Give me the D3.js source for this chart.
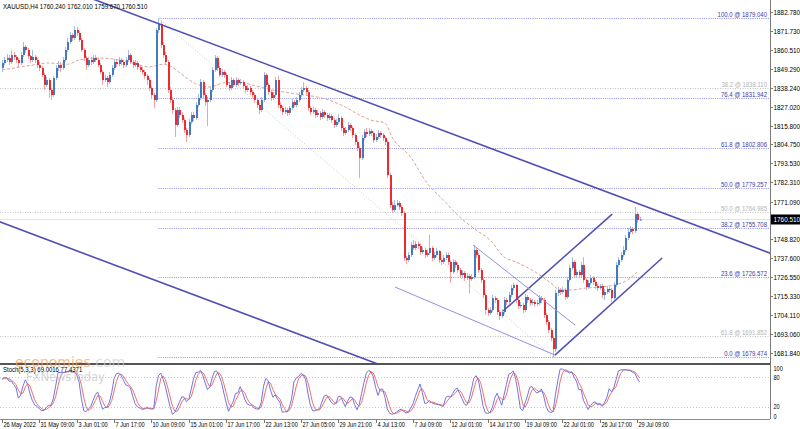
<!DOCTYPE html>
<html>
<head>
<meta charset="utf-8">
<script src="https://cdn.jsdelivr.net/npm/d3@7/dist/d3.min.js"></script>
<style>
    html, body { margin: 0; padding: 0; background: #fff; }
    svg { display: block; font-family: "Liberation Sans", Arial, sans-serif; }
</style>
</head>
<body>
<svg id="chart" width="800" height="429"></svg>
<script>
// XAUUSD H4, 26 May - 29 Jul 2022
const symbol = "XAUUSD,H4";
const firstOpen = 1849.8;
const closes = [
    1852.7,1854.5,1855.7,1853.3,1857.4,1856.3,1854.5,1852.7,1857.4,1862.2,
    1860.4,1856.8,1854.5,1856.3,1854.5,1851.5,1849.8,1845.7,1839.8,1842.7,
    1836.8,1833.9,1843.9,1849.8,1851.5,1849.8,1854.5,1860.4,1865.1,1869.2,
    1867.5,1872.2,1870.4,1866.3,1860.4,1855.7,1851.5,1854.5,1853.3,1855.7,
    1854.5,1851.5,1847.4,1842.7,1843.9,1841.5,1845.7,1849.8,1853.3,1852.1,
    1854.5,1853.3,1851.5,1854.5,1857.4,1853.3,1851.5,1852.7,1850.3,1848.6,
    1847.4,1845.1,1842.7,1838.0,1833.9,1830.9,1872.2,1875.7,1863.3,1857.4,
    1853.3,1836.8,1830.9,1825.0,1816.2,1825.0,1822.1,1819.1,1813.2,1810.3,
    1818.0,1822.1,1820.3,1828.0,1832.1,1841.5,1833.9,1829.7,1830.9,1836.8,
    1848.6,1855.7,1849.8,1845.7,1847.4,1845.7,1839.8,1838.0,1842.7,1839.8,
    1842.7,1840.9,1841.5,1839.2,1836.8,1838.0,1835.6,1833.9,1830.9,1828.0,
    1825.0,1830.9,1845.7,1839.8,1835.6,1832.1,1833.9,1842.7,1828.0,1826.2,
    1823.8,1825.0,1823.3,1826.2,1829.7,1828.0,1830.9,1833.9,1836.8,1838.0,
    1835.6,1826.2,1823.8,1825.0,1822.1,1823.3,1820.9,1823.8,1822.1,1820.3,
    1821.5,1819.1,1816.2,1818.0,1820.3,1814.4,1811.5,1813.2,1816.2,1814.4,
    1810.3,1806.2,1802.6,1796.7,1808.5,1812.1,1810.9,1812.6,1811.5,1807.3,
    1809.1,1811.5,1810.3,1808.5,1806.2,1786.7,1769.0,1766.1,1769.0,1770.2,
    1767.9,1764.3,1737.8,1736.6,1739.6,1745.5,1743.7,1746.1,1744.9,1741.3,
    1742.5,1739.6,1740.7,1743.7,1737.8,1739.6,1741.9,1736.6,1735.5,1737.8,
    1739.6,1735.5,1729.6,1735.5,1733.7,1730.7,1727.8,1729.0,1726.0,1727.2,
    1725.4,1726.6,1742.5,1739.6,1730.7,1724.9,1716.0,1707.2,1705.4,1707.2,
    1714.2,1713.1,1706.0,1703.6,1706.0,1713.1,1711.9,1716.0,1720.1,1721.9,
    1713.1,1709.5,1710.1,1707.2,1714.8,1713.1,1711.3,1711.9,1710.7,1711.3,
    1714.2,1713.1,1704.2,1700.1,1695.4,1690.6,1684.2,1717.2,1719.0,1717.8,
    1719.0,1714.8,1724.9,1731.9,1735.5,1727.8,1729.6,1727.8,1733.7,1724.9,
    1720.7,1723.1,1726.0,1723.7,1721.3,1720.1,1721.3,1716.0,1717.8,1719.5,
    1719.0,1714.2,1721.9,1733.7,1736.6,1739.6,1742.5,1749.6,1753.1,1754.9,
    1753.7,1763.7,1760.24,1760.51
];
const highs = [
    1854.5,1856.3,1858.0,1857.4,1860.4,1859.2,1857.4,1855.7,1859.2,1865.1,
    1863.3,1861.6,1857.4,1860.4,1857.4,1855.7,1853.3,1851.0,1846.8,1844.5,
    1843.9,1838.0,1845.1,1851.5,1853.9,1853.3,1856.3,1862.2,1867.5,1871.0,
    1870.4,1874.5,1874.0,1871.6,1867.5,1861.6,1856.8,1856.3,1856.3,1857.4,
    1857.4,1855.7,1852.7,1848.6,1845.7,1845.1,1847.4,1851.5,1855.1,1854.5,
    1856.3,1855.7,1854.5,1856.3,1860.4,1858.6,1854.5,1854.5,1853.9,1851.5,
    1850.3,1848.6,1846.2,1843.9,1839.2,1835.1,1873.4,1879.04,1877.5,1865.1,
    1859.2,1854.5,1838.6,1832.7,1826.2,1826.8,1826.8,1823.8,1820.3,1814.4,
    1819.7,1823.8,1823.8,1829.7,1834.5,1843.3,1842.7,1835.1,1832.7,1838.6,
    1850.3,1857.4,1856.8,1851.0,1849.2,1848.6,1846.8,1841.0,1844.5,1843.9,
    1844.5,1843.9,1843.3,1842.7,1840.3,1839.8,1839.2,1836.8,1835.1,1832.1,
    1829.1,1832.7,1847.4,1846.8,1841.0,1836.8,1835.6,1844.5,1845.1,1829.7,
    1827.4,1826.8,1826.2,1827.4,1831.5,1830.9,1832.7,1835.6,1838.6,1841.5,
    1839.2,1836.8,1827.4,1826.8,1826.2,1825.0,1824.4,1825.6,1825.0,1823.3,
    1823.3,1822.6,1820.3,1819.7,1822.6,1821.5,1815.6,1815.0,1818.0,1817.4,
    1815.6,1811.5,1807.3,1803.8,1810.3,1813.8,1814.4,1814.4,1813.8,1812.6,
    1810.9,1813.2,1812.6,1811.5,1809.7,1807.3,1788.0,1770.8,1772.0,1772.0,
    1771.4,1769.0,1765.5,1739.0,1741.3,1747.2,1748.4,1747.8,1747.2,1746.1,
    1744.3,1743.7,1742.5,1751.4,1744.9,1741.3,1743.7,1742.5,1737.8,1739.6,
    1741.3,1740.7,1736.6,1737.2,1736.6,1734.9,1731.9,1730.7,1730.2,1728.9,
    1728.4,1728.4,1745.5,1743.7,1740.7,1731.9,1726.0,1717.2,1708.5,1708.9,
    1716.0,1715.4,1714.2,1707.2,1707.8,1714.8,1714.2,1717.8,1721.9,1723.1,
    1722.5,1714.2,1711.9,1711.3,1716.6,1716.0,1714.2,1713.7,1713.1,1713.1,
    1716.0,1715.4,1714.2,1705.4,1701.3,1696.6,1691.8,1719.0,1720.7,1720.1,
    1720.7,1720.1,1726.6,1733.7,1738.4,1736.6,1731.3,1730.7,1735.5,1738.4,
    1726.0,1724.9,1727.8,1727.2,1724.9,1722.5,1722.5,1722.5,1719.5,1721.3,
    1720.7,1720.1,1723.7,1735.5,1738.4,1741.3,1744.9,1751.4,1755.5,1756.7,
    1756.1,1767.9,1764.9,1762.01
];
const lows = [
    1847.4,1851.5,1853.3,1851.5,1852.1,1854.5,1852.7,1850.3,1851.5,1856.3,
    1858.6,1855.1,1852.7,1853.3,1852.7,1849.8,1848.0,1844.5,1836.8,1838.6,
    1832.1,1830.9,1832.7,1842.7,1848.0,1847.4,1848.6,1853.3,1859.2,1863.9,
    1865.7,1866.3,1868.6,1865.1,1859.2,1853.9,1848.6,1850.3,1851.5,1852.1,
    1853.3,1850.3,1846.2,1839.8,1841.5,1838.6,1840.3,1844.5,1848.6,1850.3,
    1850.9,1851.5,1849.8,1850.3,1853.3,1852.1,1849.8,1850.3,1848.6,1847.4,
    1845.7,1843.3,1839.8,1836.2,1831.5,1826.2,1829.7,1870.4,1861.6,1855.7,
    1851.5,1835.1,1829.1,1822.6,1809.1,1815.0,1820.3,1817.4,1811.5,1806.2,
    1809.1,1816.8,1818.6,1819.1,1826.8,1830.9,1832.1,1827.4,1815.6,1829.7,
    1835.6,1847.4,1848.0,1844.5,1844.5,1843.9,1838.6,1836.2,1836.8,1838.6,
    1838.6,1839.2,1839.8,1837.4,1835.1,1835.6,1833.9,1832.1,1829.1,1826.2,
    1822.6,1823.8,1829.7,1838.6,1833.9,1830.3,1830.9,1832.7,1826.2,1824.4,
    1822.1,1822.6,1821.5,1822.1,1825.0,1826.8,1826.8,1829.7,1832.7,1835.6,
    1833.9,1824.4,1822.1,1822.6,1820.3,1820.9,1819.1,1819.7,1820.3,1818.6,
    1819.1,1817.4,1814.4,1815.0,1816.8,1812.6,1809.7,1810.3,1812.1,1812.6,
    1808.5,1804.4,1800.8,1784.8,1795.6,1807.3,1809.1,1809.7,1809.7,1805.6,
    1806.2,1808.0,1808.5,1806.8,1804.4,1784.8,1767.3,1764.3,1764.9,1767.9,
    1766.1,1762.5,1736.0,1734.3,1735.5,1738.4,1742.5,1742.5,1743.1,1739.6,
    1740.1,1737.8,1738.4,1739.6,1736.0,1736.6,1738.4,1734.9,1733.7,1734.3,
    1736.6,1733.7,1723.1,1728.4,1731.9,1729.0,1726.0,1726.6,1724.3,1724.9,
    1717.0,1724.3,1725.4,1737.8,1729.0,1723.1,1714.2,1704.2,1703.6,1704.2,
    1706.0,1711.3,1704.2,1701.3,1702.4,1704.8,1710.1,1710.7,1714.8,1718.4,
    1711.3,1707.8,1708.4,1705.4,1706.0,1711.3,1709.5,1710.1,1709.0,1709.5,
    1710.1,1711.3,1702.4,1698.3,1693.6,1688.8,1679.474,1682.4,1715.4,1716.0,
    1716.6,1713.1,1713.7,1723.7,1730.7,1726.0,1726.6,1726.0,1726.6,1723.1,
    1719.0,1719.5,1721.9,1721.9,1719.5,1718.4,1718.9,1714.2,1713.1,1716.6,
    1717.2,1711.9,1713.1,1720.7,1732.5,1735.5,1738.4,1741.3,1748.4,1751.9,
    1751.9,1752.5,1758.5,1759.67
];

// dashed moving average, read at a few bars
const maBars = [0, 8, 13, 20, 28, 33, 42, 50, 56, 63, 69, 72, 77, 83, 89, 95, 102, 107, 116, 123, 129, 135, 140, 147, 153, 158, 164, 167, 175, 182, 189, 196, 203, 209, 215, 220, 227, 235, 239, 244, 250, 256, 262, 268, 272];
const maValues = [1848.6, 1850.4, 1851.5, 1852.7, 1852.0, 1854.5, 1855.7, 1854.5, 1852.7, 1850.4, 1852.0, 1851.0, 1846.0, 1840.5, 1838.6, 1841.0, 1841.5, 1839.8, 1836.8, 1835.1, 1833.9, 1832.7, 1830.9, 1826.8, 1822.1, 1819.1, 1817.4, 1809.1, 1797.3, 1782.0, 1772.0, 1762.0, 1754.3, 1748.4, 1738.4, 1735.5, 1730.7, 1723.1, 1719.0, 1719.0, 1720.1, 1720.7, 1721.9, 1724.9, 1729.6];

const timeLabels = ["26 May 2022", "31 May 09:00", "3 Jun 01:00", "7 Jun 17:00", "10 Jun 09:00", "15 Jun 01:00", "17 Jun 17:00", "22 Jun 13:00", "27 Jun 05:00", "29 Jun 21:00", "4 Jul 13:00", "7 Jul 09:00", "12 Jul 01:00", "14 Jul 17:00", "19 Jul 09:00", "22 Jul 01:00", "26 Jul 17:00", "29 Jul 09:00"];
const barsPerLabel = 16;
const priceTicks = [1882.780, 1871.730, 1860.510, 1849.290, 1838.240, 1827.020, 1815.800, 1804.750, 1793.530, 1782.310, 1771.090, 1748.820, 1737.600, 1726.550, 1715.330, 1704.110, 1693.060, 1681.840];
const stochTicks = [100, 80, 20, 0];
const stochLevels = [80, 20];

// fibonacci from the 13 Jun high to the 21 Jul low
const fibHighBar = 67, fibHigh = 1879.040;
const fibLowBar = 236, fibLow = 1679.474;
const fibLevels = [100.0, 76.4, 61.8, 50.0, 38.2, 23.6, 0.0];
// older, wider fibonacci (only three levels visible)
const grayFibLevels = [38.2, 50.0, 61.8];
const grayFibPrices = [1838.110, 1764.985, 1691.852];

// trend lines as [bar, price] pairs
const channelUpper = [[68, 1875.4], [273, 1769.5]];
const channelLower = [[0, 1758.6], [150, 1681.0]];
const risingLower = [[236.8, 1680.6], [282.7, 1737.8]];
const risingUpper = [[214.6, 1706.6], [261.3, 1763.7]];
const wedgeUpper = [[201.7, 1745.5], [245.4, 1698.3]];
const wedgeLower = [[168.3, 1720.7], [236.8, 1680.6]];

//------------------------------------------------------------------
const W = 800, H = 429;
const plotRight = 770;
const mainBottom = 364;
const stochBottom = 419;

const n = closes.length;
const bars = closes.map((c, i) => ({
    i: i,
    o: i === 0 ? firstOpen : closes[i - 1],
    h: highs[i],
    l: lows[i],
    c: c
}));

const x = d3.scaleLinear().domain([0, n - 1]).range([2, 639.5]);
const y = d3.scaleLinear().domain([1676.5, 1889.85]).range([362.05, 0]);
const ys = d3.scaleLinear().domain([0, 100]).range([416.5, 366.5]);

const svg = d3.select("#chart");

// text with the horizontally squeezed look of the screenshot
function txt(g, px, py, str, size, color, anchor, sx) {
    return g.append("text")
        .attr("transform", `translate(${px},${py}) scale(${sx || 0.8},1)`)
        .attr("font-size", size)
        .attr("fill", color)
        .attr("text-anchor", anchor || "start")
        .text(str);
}

svg.append("defs").append("clipPath").attr("id", "mainClip")
    .append("rect").attr("x", 0).attr("y", 0).attr("width", plotRight).attr("height", mainBottom);

const main = svg.append("g").attr("clip-path", "url(#mainClip)");

// gray fib levels, full width
grayFibLevels.forEach((lv, k) => {
    const py = Math.round(y(grayFibPrices[k])) + 0.5;
    main.append("line")
        .attr("x1", 0).attr("x2", plotRight).attr("y1", py).attr("y2", py)
        .attr("stroke", "#c4c4c4").attr("stroke-dasharray", "1,1.5");
    txt(svg, plotRight - 3, py - 2, `${lv.toFixed(1)} @ ${grayFibPrices[k].toFixed(3)}`, 7.5, "#b4b4b4", "end");
});

// bid line
main.append("line")
    .attr("x1", 0).attr("x2", plotRight)
    .attr("y1", Math.round(y(closes[n - 1])) + 0.5).attr("y2", Math.round(y(closes[n - 1])) + 0.5)
    .attr("stroke", "#d6e8ee");

// blue fib levels
const fibX0 = x(fibHighBar);
fibLevels.forEach(lv => {
    const price = fibLow + (fibHigh - fibLow) * lv / 100;
    const py = Math.round(y(price)) + 0.5;
    main.append("line")
        .attr("x1", fibX0).attr("x2", plotRight).attr("y1", py).attr("y2", py)
        .attr("stroke", "#8d8de6").attr("stroke-dasharray", "1,1.2");
    txt(svg, plotRight - 3, py - 2, `${lv.toFixed(1)} @ ${price.toFixed(3)}`, 7.5, "#3b3bab", "end");
});
main.append("line")
    .attr("x1", x(fibHighBar)).attr("y1", y(fibHigh))
    .attr("x2", x(fibLowBar)).attr("y2", y(fibLow))
    .attr("stroke", "#c8c8c8").attr("stroke-dasharray", "1,2");

// moving average
main.append("path")
    .datum(maBars.map((b, k) => [b, maValues[k]]))
    .attr("fill", "none")
    .attr("stroke", "#d9a295")
    .attr("stroke-width", 1)
    .attr("stroke-dasharray", "3,2")
    .attr("d", d3.line().x(d => x(d[0])).y(d => y(d[1])).curve(d3.curveMonotoneX));

// candles
const candle = main.append("g");
candle.selectAll(".wick").data(bars).enter().append("line")
    .attr("x1", d => Math.round(x(d.i)) + 0.5).attr("x2", d => Math.round(x(d.i)) + 0.5)
    .attr("y1", d => y(d.h)).attr("y2", d => y(d.l))
    .attr("stroke", d => d.c >= d.o ? "#a3bfe3" : "#f4a2a5")
    .attr("stroke-width", 1);
candle.selectAll(".body").data(bars).enter().append("rect")
    .attr("x", d => Math.round(x(d.i)))
    .attr("width", 2)
    .attr("y", d => y(Math.max(d.o, d.c)))
    .attr("height", d => Math.max(1, Math.abs(y(d.o) - y(d.c))))
    .attr("fill", d => d.c >= d.o ? "#4479bf" : "#ec2a2f");

// trend lines
function extLine(p, color, width) {
    const [a, b] = p;
    const x1 = x(a[0]), y1 = y(a[1]), x2 = x(b[0]), y2 = y(b[1]);
    const k = (y2 - y1) / (x2 - x1);
    main.append("line")
        .attr("x1", -10).attr("y1", y1 + k * (-10 - x1))
        .attr("x2", W).attr("y2", y1 + k * (W - x1))
        .attr("stroke", color).attr("stroke-width", width);
}
function segLine(p, color, width) {
    main.append("line")
        .attr("x1", x(p[0][0])).attr("y1", y(p[0][1]))
        .attr("x2", x(p[1][0])).attr("y2", y(p[1][1]))
        .attr("stroke", color).attr("stroke-width", width);
}
extLine(channelUpper, "#4e4eb4", 1.6);
extLine(channelLower, "#4e4eb4", 1.6);
segLine(risingLower, "#4e4eb4", 1.5);
segLine(risingUpper, "#4e4eb4", 1.5);
segLine(wedgeUpper, "#9292e2", 1);
segLine(wedgeLower, "#9292e2", 1);

// header
const last = bars[n - 1];
txt(svg, 3, 9, `${symbol}  ${last.o.toFixed(3)} ${last.h.toFixed(3)} ${last.l.toFixed(3)} ${last.c.toFixed(3)}`, 7.5, "#000", "start", 0.82);

// right price axis
svg.append("line").attr("x1", plotRight + 0.5).attr("x2", plotRight + 0.5).attr("y1", 0).attr("y2", stochBottom)
    .attr("stroke", "#7a7a7a");
priceTicks.forEach(p => {
    const py = Math.round(y(p)) + 0.5;
    svg.append("line").attr("x1", plotRight).attr("x2", plotRight + 3).attr("y1", py).attr("y2", py).attr("stroke", "#7a7a7a");
    txt(svg, plotRight + 3.5, py + 2.8, p.toFixed(3), 8);
});
const cy = y(last.c);
svg.append("rect").attr("x", plotRight + 1).attr("y", cy - 5).attr("width", W - plotRight - 1).attr("height", 10).attr("fill", "#000");
txt(svg, plotRight + 3.5, cy + 2.8, last.c.toFixed(3), 8, "#fff");

// stochastic (5,3,3) from the candles
const kPer = 5, slowing = 3, dPer = 3;
const hh = [], ll = [];
bars.forEach((d, i) => {
    const w = bars.slice(Math.max(0, i - kPer + 1), i + 1);
    hh.push(d3.max(w, b => b.h));
    ll.push(d3.min(w, b => b.l));
});
const kLine = bars.map((d, i) => {
    let num = 0, den = 0;
    for (let j = Math.max(0, i - slowing + 1); j <= i; j++) {
        num += bars[j].c - ll[j];
        den += hh[j] - ll[j];
    }
    return den === 0 ? 50 : num / den * 100;
});
const dLine = kLine.map((v, i) => d3.mean(kLine.slice(Math.max(0, i - dPer + 1), i + 1)));

// separator between panes
svg.append("line").attr("x1", 0).attr("x2", plotRight).attr("y1", mainBottom).attr("y2", mainBottom)
    .attr("stroke", "#555").attr("stroke-width", 2);
svg.append("line").attr("x1", 0).attr("x2", plotRight).attr("y1", stochBottom + 0.5).attr("y2", stochBottom + 0.5)
    .attr("stroke", "#8a8a8a");

const stoch = svg.append("g");
stochLevels.forEach(lv => {
    stoch.append("line").attr("x1", 0).attr("x2", plotRight)
        .attr("y1", Math.round(ys(lv)) + 0.5).attr("y2", Math.round(ys(lv)) + 0.5)
        .attr("stroke", "#c8c8c8").attr("stroke-dasharray", "1,2");
});
stochTicks.forEach(v => {
    // keep the top label inside the pane, nudge 80 off it
    let cyT = Math.max(ys(v), mainBottom + 4.5);
    if (v === 80) cyT += 1.5;
    txt(svg, plotRight + 3.5, cyT + 2.4, String(v), 7, "#000");
});

// watermark
const wm = svg.append("g").attr("opacity", 0.7);
const wmText = wm.append("text").attr("x", 15).attr("y", 367).attr("font-size", 14).attr("font-family", "Verdana, 'DejaVu Sans', sans-serif");
wmText.append("tspan").attr("fill", "#f7a15a").text("economies");
wmText.append("tspan").attr("fill", "#cfcfcf").text(".com");
wm.append("text").attr("x", 26).attr("y", 381).attr("font-size", 11.5).attr("fill", "#c4c4c4")
    .attr("font-family", "Verdana, 'DejaVu Sans', sans-serif").text("FXNewsToday");

stoch.append("path").datum(dLine)
    .attr("fill", "none").attr("stroke", "#f07070").attr("stroke-width", 1)
    .attr("d", d3.line().x((d, i) => x(i)).y(d => ys(d)));
stoch.append("path").datum(kLine)
    .attr("fill", "none").attr("stroke", "#7474e0").attr("stroke-width", 1)
    .attr("d", d3.line().x((d, i) => x(i)).y(d => ys(d)));

txt(svg, 3, 372, `Stoch(${kPer},${slowing},${dPer}) ${kLine[n - 1].toFixed(4)} ${dLine[n - 1].toFixed(4)}`, 7.5, "#000");

// time axis
timeLabels.forEach((t, k) => {
    const px = Math.round(x(k * barsPerLabel)) + 0.5;
    svg.append("line").attr("x1", px).attr("x2", px).attr("y1", stochBottom).attr("y2", stochBottom + 4).attr("stroke", "#7a7a7a");
    txt(svg, px + 1, 426.5, t, 8, "#000", "start", 0.7);
});
</script>
</body>
</html>
